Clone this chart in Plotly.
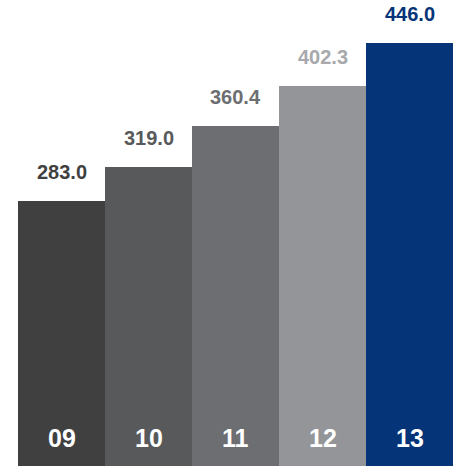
import plotly.graph_objects as go

categories = ["09", "10", "11", "12", "13"]
values = [283.0, 319.0, 360.4, 402.3, 446.0]
value_labels = ["283.0", "319.0", "360.4", "402.3", "446.0"]
bar_colors = ["#404041", "#58595b", "#6d6e71", "#939598", "#063478"]
label_colors = ["#404041", "#58595b", "#6d6e71", "#a7a9ac", "#063478"]

Y_MIN, Y_MAX = 10.3, 490.7

fig = go.Figure(go.Bar(
    x=categories, y=values, marker=dict(color=bar_colors, line=dict(width=0)),
    hoverinfo="skip",
))

annotations = []
for i, (c, v, t, col) in enumerate(zip(categories, values, value_labels, label_colors)):
    annotations.append(dict(x=i, y=v, text="<b>%s</b>" % t, showarrow=False,
                            yanchor="middle", yshift=29,
                            font=dict(family="Liberation Sans, Arial", size=20, color=col)))
    annotations.append(dict(x=i, y=Y_MIN, text="<b>%s</b>" % c, showarrow=False,
                            yanchor="middle", yshift=28,
                            font=dict(family="Liberation Sans, Arial", size=25, color="white")))

fig.update_layout(
    width=459, height=466,
    margin=dict(l=18, r=6, t=0, b=0),
    paper_bgcolor="white", plot_bgcolor="white",
    bargap=0, showlegend=False,
    xaxis=dict(visible=False, type="category", range=[-0.5, 4.5]),
    yaxis=dict(visible=False, range=[Y_MIN, Y_MAX]),
    annotations=annotations,
)

fig.write_html("out.html", config={"displayModeBar": False, "staticPlot": True},
               post_script="document.body.style.margin='0';document.body.style.overflow='hidden';")
